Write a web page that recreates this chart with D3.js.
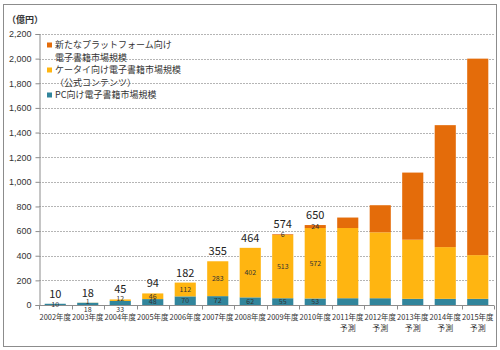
<!DOCTYPE html>
<html>
<head>
<meta charset="utf-8">
<script src="https://cdn.jsdelivr.net/npm/d3@7"></script>
<style>
  body { margin: 0; background: #fff; }
  svg { display: block; font-family: "Noto Sans CJK JP", "Noto Sans", sans-serif; }
</style>
</head>
<body>
<div id="chart"></div>
<script>
// 電子書籍市場規模（億円）
const years = ["2002年度", "2003年度", "2004年度", "2005年度", "2006年度", "2007年度", "2008年度",
  "2009年度", "2010年度", "2011年度", "2012年度", "2013年度", "2014年度", "2015年度"];
const forecast = [false, false, false, false, false, false, false, false, false, true, true, true, true, true];
const pcValues = [10, 18, 33, 48, 70, 72, 62, 55, 53, 55, 55, 50, 50, 50];
const keitaiValues = [0, 1, 12, 46, 112, 283, 402, 513, 572, 570, 535, 480, 420, 355];
const newPlatformValues = [0, 0, 0, 0, 0, 0, 0, 6, 24, 85, 220, 545, 990, 1595];
const totals = [10, 18, 45, 94, 182, 355, 464, 574, 650, null, null, null, null, null];
const yTicks = [0, 200, 400, 600, 800, 1000, 1200, 1400, 1600, 1800, 2000, 2200];

const seriesKeys = ["pc", "keitai", "newPlatform"];
const seriesColors = { pc: "#31859C", keitai: "#FFB511", newPlatform: "#E46C0A" };
const legendItems = [
  { key: "newPlatform", lines: ["新たなプラットフォーム向け", "電子書籍市場規模"] },
  { key: "keitai", lines: ["ケータイ向け電子書籍市場規模", "（公式コンテンツ）"] },
  { key: "pc", lines: ["PC向け電子書籍市場規模"] },
];

const table = years.map((year, i) => ({
  year,
  forecast: forecast[i],
  pc: pcValues[i],
  keitai: keitaiValues[i],
  newPlatform: newPlatformValues[i],
  total: totals[i],
}));

const width = 500;
const height = 350;
const margin = { top: 34, right: 6, bottom: 45, left: 39 };

const svg = d3.select("#chart")
  .append("svg")
  .attr("width", width)
  .attr("height", height);

// outer frame
svg.append("rect")
  .attr("x", 3.5).attr("y", 4.5)
  .attr("width", 493).attr("height", 342)
  .attr("fill", "none")
  .attr("stroke", "#8c8c8c");

const x = d3.scaleBand()
  .domain(years)
  .range([margin.left, width - margin.right])
  .paddingInner(0.35)
  .paddingOuter(0.175);

const y = d3.scaleLinear()
  .domain([0, 2200])
  .range([height - margin.bottom, margin.top]);

// grid
svg.append("g")
  .selectAll("line")
  .data(yTicks.filter((d) => d > 0))
  .join("line")
  .attr("x1", margin.left)
  .attr("x2", width - margin.right)
  .attr("y1", (d) => Math.round(y(d)) + 0.5)
  .attr("y2", (d) => Math.round(y(d)) + 0.5)
  .attr("stroke", "#b5b5b5")
  .attr("stroke-dasharray", "2,1");

// stacked bars
const stack = d3.stack().keys(seriesKeys);
const stacked = stack(table);

const layers = svg.append("g")
  .selectAll("g")
  .data(stacked)
  .join("g")
  .attr("fill", (d) => seriesColors[d.key]);

layers.selectAll("rect")
  .data((d) => d)
  .join("rect")
  .attr("x", (d) => x(d.data.year))
  .attr("width", x.bandwidth())
  .attr("y", (d) => y(d[1]))
  .attr("height", (d) => y(d[0]) - y(d[1]));

// y axis
const yAxis = svg.append("g")
  .attr("transform", `translate(${margin.left + 0.5},0)`)
  .call(d3.axisLeft(y).tickValues(yTicks).tickSize(4).tickPadding(4).tickFormat(d3.format(",")));
yAxis.select(".domain").attr("stroke", "#8c8c8c");
yAxis.selectAll(".tick line").attr("stroke", "#8c8c8c");
yAxis.selectAll(".tick text").attr("fill", "#333").style("font-size", "9px");

// x axis
const baseY = Math.round(y(0)) + 0.5;
svg.append("line")
  .attr("x1", margin.left).attr("x2", width - margin.right)
  .attr("y1", baseY).attr("y2", baseY)
  .attr("stroke", "#8c8c8c");

const step = x.step();
svg.append("g")
  .selectAll("line")
  .data(d3.range(years.length + 1))
  .join("line")
  .attr("x1", (i) => Math.round(margin.left + i * step) + 0.5)
  .attr("x2", (i) => Math.round(margin.left + i * step) + 0.5)
  .attr("y1", baseY)
  .attr("y2", baseY + 4)
  .attr("stroke", "#8c8c8c");

const xLabels = svg.append("g")
  .selectAll("g")
  .data(table)
  .join("g")
  .attr("transform", (d) => `translate(${x(d.year) + x.bandwidth() / 2},0)`)
  .attr("fill", "#333")
  .style("font-size", "8px")
  .attr("text-anchor", "middle");

xLabels.append("text")
  .attr("y", baseY + 14)
  .attr("textLength", step - 1)
  .attr("lengthAdjust", "spacingAndGlyphs")
  .text((d) => d.year);

xLabels.filter((d) => d.forecast)
  .append("text")
  .attr("y", baseY + 25)
  .text("予測");

// segment labels (only for actual years)
const labelled = table.filter((d) => d.total !== null);
const segLabels = svg.append("g")
  .attr("fill", "#333")
  .style("font-size", "7px")
  .attr("text-anchor", "middle");

stacked.forEach((layer) => {
  layer.forEach((seg) => {
    const d = seg.data;
    const v = d[layer.key];
    if (d.total === null || v <= 0) return;
    const h = y(seg[0]) - y(seg[1]);
    let cy = (y(seg[0]) + y(seg[1])) / 2;
    // PC segment too thin with another label above it: put under the axis
    if (layer.key === "pc" && h < 5 && d.keitai > 0) cy = baseY + 4.5;
    // tiny keitai segment sitting on a thin PC bar: lift slightly
    if (layer.key === "keitai" && h < 5) cy -= 1.5;
    segLabels.append("text")
      .attr("x", x(d.year) + x.bandwidth() / 2)
      .attr("y", cy)
      .attr("dy", "0.35em")
      .text(v);
  });
});

// totals
svg.append("g")
  .selectAll("text")
  .data(labelled)
  .join("text")
  .attr("x", (d) => x(d.year) + x.bandwidth() / 2)
  .attr("y", (d) => y(d.total) - 6)
  .attr("text-anchor", "middle")
  .attr("fill", "#222")
  .style("font-size", "11px")
  .text((d) => d.total);

// unit label
svg.append("text")
  .attr("x", 7)
  .attr("y", 23)
  .attr("fill", "#333")
  .style("font-size", "9px")
  .style("font-weight", "bold")
  .text("（億円）");

// legend
const legend = svg.append("g").attr("transform", "translate(47,45)");
let row = 0;
legendItems.forEach((item) => {
  legend.append("rect")
    .attr("x", 0)
    .attr("y", row * 12.5 - 2.5)
    .attr("width", 5)
    .attr("height", 5)
    .attr("fill", seriesColors[item.key]);
  item.lines.forEach((line) => {
    legend.append("text")
      .attr("x", 8)
      .attr("y", row * 12.5)
      .attr("dy", "0.35em")
      .attr("fill", "#333")
      .style("font-size", "9px")
      .text(line);
    row += 1;
  });
});
</script>
</body>
</html>
